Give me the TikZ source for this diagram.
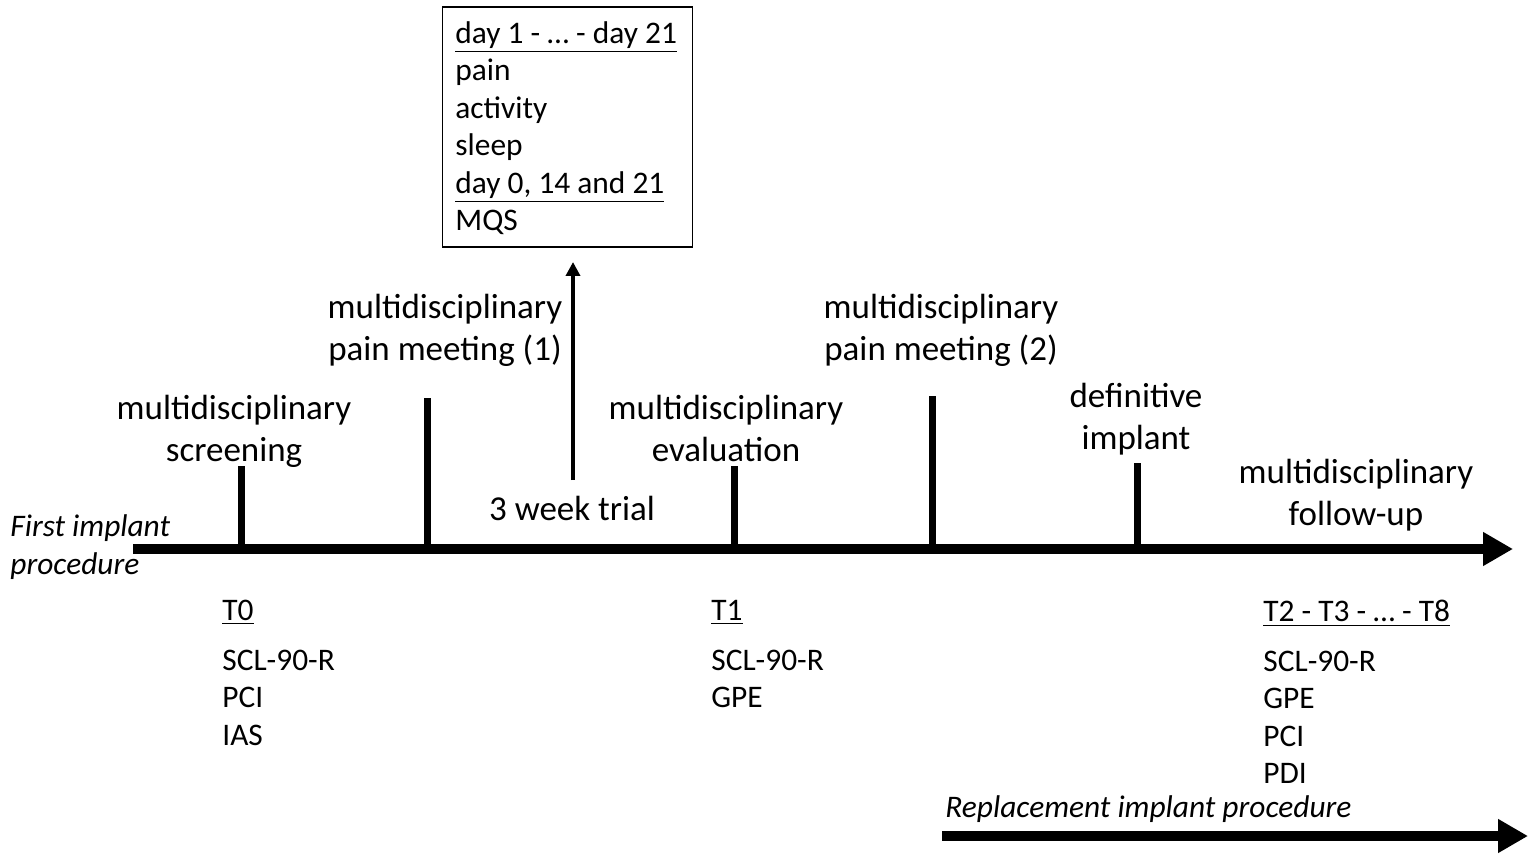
\documentclass[tikz,border=0pt]{standalone}
\usepackage{fontspec}
\setmainfont{Carlito}
\usetikzlibrary{arrows.meta}
\begin{document}
\begin{tikzpicture}[x=0.5pt,y=-0.5pt,
  big/.style={font=\fontsize{17.5}{21}\selectfont,align=center,inner sep=0pt},
  small/.style={font=\fontsize{15.7}{18.75}\selectfont,align=left,inner sep=0pt,anchor=north west},
  ital/.style={font=\fontsize{15.7}{19}\selectfont\itshape,align=left,inner sep=0pt,anchor=north west},
  tick/.style={line width=3.5pt},
  axis/.style={line width=5pt,-{Triangle[length=15pt,width=16pt]}}]
\useasboundingbox (0,0) rectangle (1536,861);
% axis
\coordinate (axL) at (133,549);
\coordinate (axR) at (1513,549);
\draw[axis] (axL) -- (axR);
\coordinate (bL) at (942,836);
\coordinate (bR) at (1528,836);
\draw[axis] (bL) -- (bR);
% ticks
\foreach \n/\x/\t in {a/241/466,b/427/398,c/734/466,d/932/396,e/1137/463}{
  \coordinate (top\n) at (\x,\t);
  \coordinate (bot\n) at (\x,551);
  \draw[tick] (top\n) -- (bot\n);
}
% labels
\node[big] (screen) at (234,431) {multidisciplinary\\screening};
\node[big] (pm1) at (445,330) {multidisciplinary\\pain meeting (1)};
\node[big] (trial) at (572,508) {3 week trial};
\node[big] (eval) at (726,428) {multidisciplinary\\evaluation};
\node[big] (pm2) at (941,330) {multidisciplinary\\pain meeting (2)};
\node[big] (defimp) at (1136,419) {definitive\\implant};
\node[big] (follow) at (1356,495) {multidisciplinary\\follow-up};
% box
\node[draw,line width=0.8pt,minimum width=125pt,minimum height=120pt,inner sep=0pt] (box) at (567.5,127) {};
\node[small,anchor=north west] (boxtxt) at (455,21) {\underline{day 1 - \dots{} - day 21}\\pain\\activity\\sleep\\\underline{day 0, 14 and 21}\\MQS};
\coordinate (arrbot) at (573,480);
\coordinate (arrtop) at (573,262);
\draw[line width=2pt,-{Triangle[length=7pt,width=7pt]}] (arrbot) -- (arrtop);
% first implant
\node[ital] (first) at (10,514) {First implant\\procedure};
% measurement lists
\node[small] (t0) at (222,600) {\underline{T0}\\[6pt]SCL-90-R\\PCI\\IAS};
\node[small] (t1) at (711,600) {\underline{T1}\\[6pt]SCL-90-R\\GPE};
\node[small] (t2) at (1263,600) {\underline{T2 - T3 - \dots{} - T8}\\[6pt]SCL-90-R\\GPE\\PCI\\PDI};
\node[ital] (repl) at (945,795) {Replacement implant procedure};
\end{tikzpicture}
\end{document}
